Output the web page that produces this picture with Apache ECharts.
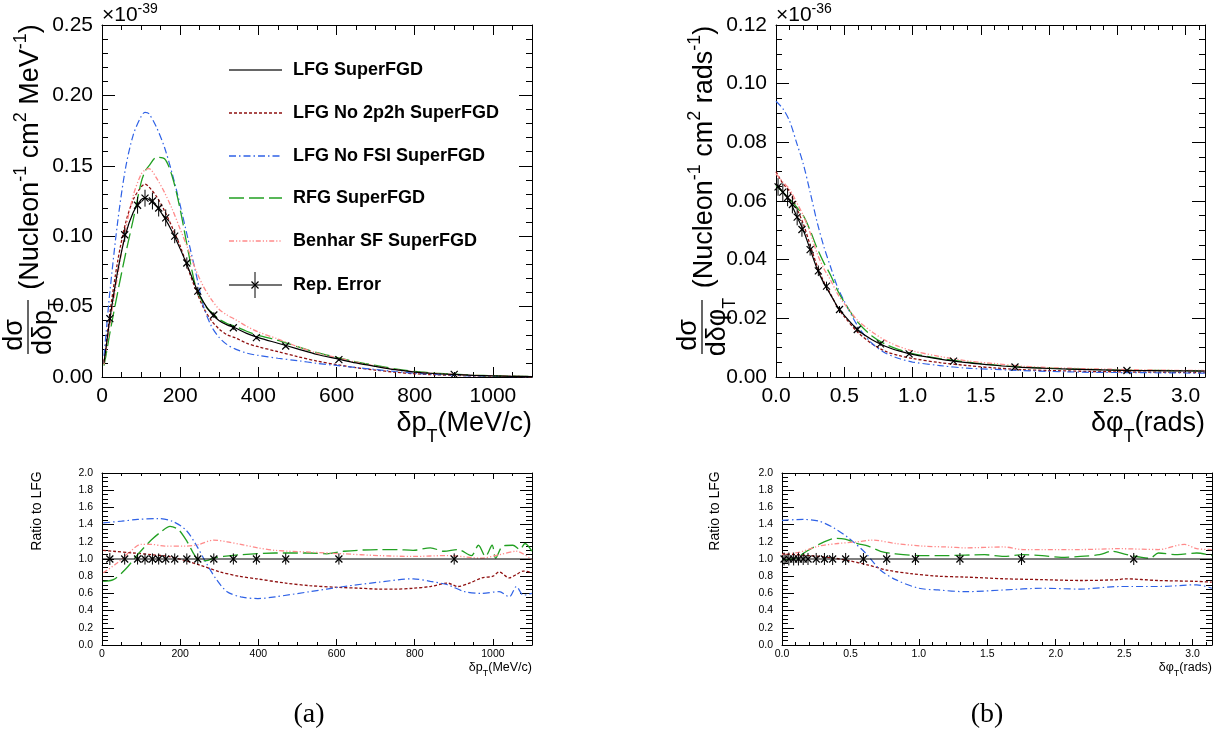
<!DOCTYPE html>
<html><head><meta charset="utf-8">
<script src="https://cdn.jsdelivr.net/npm/echarts@6/dist/echarts.min.js"></script>
<style>html,body{margin:0;padding:0;background:#fff}#c{width:1220px;height:733px}</style>
</head><body><div id="c"></div>
<script>
// ---------- data: panel (a), delta pT [MeV/c], cross-section x1e-39 ----------
const dptX   = [5,10,20,40,60,80,100,110,120,140,160,180,200,220,240,260,280,300,320,340,370,400,450,500,550,600,650,700,750,800,850,900,950,1000,1050,1100];
const lfgL   = [0.010,0.020,0.041,0.075,0.101,0.117,0.126,0.127,0.126,0.121,0.113,0.103,0.091,0.078,0.064,0.053,0.045,0.040,0.037,0.035,0.031,0.028,0.024,0.020,0.016,0.013,0.010,0.0075,0.0052,0.0035,0.0025,0.0018,0.0012,0.0008,0.0005,0.0003];
const no2p2hL= [0.011,0.022,0.045,0.082,0.109,0.126,0.135,0.137,0.135,0.128,0.118,0.106,0.093,0.077,0.062,0.049,0.040,0.034,0.030,0.028,0.024,0.0215,0.018,0.0145,0.0113,0.0088,0.0066,0.0049,0.0034,0.0023,0.0016,0.0012,0.0008,0.0006,0.0004,0.00025];
const noFsiL = [0.015,0.030,0.060,0.110,0.148,0.172,0.185,0.188,0.187,0.177,0.163,0.144,0.122,0.098,0.074,0.050,0.036,0.028,0.023,0.020,0.017,0.0153,0.0133,0.0116,0.0097,0.0082,0.0067,0.0053,0.0039,0.0027,0.0019,0.0013,0.0008,0.0005,0.0003,0.0002];
const rfgL   = [0.008,0.015,0.031,0.060,0.087,0.112,0.138,0.146,0.150,0.156,0.155,0.142,0.119,0.090,0.064,0.052,0.046,0.041,0.038,0.036,0.0325,0.0295,0.026,0.0215,0.0173,0.0140,0.0108,0.0082,0.0058,0.0039,0.0028,0.0020,0.0013,0.0009,0.0006,0.0004];
const sfL    = [0.009,0.018,0.037,0.072,0.104,0.129,0.144,0.147,0.148,0.141,0.131,0.119,0.105,0.091,0.076,0.064,0.055,0.048,0.044,0.041,0.036,0.032,0.027,0.0216,0.017,0.0138,0.0105,0.0078,0.0054,0.0036,0.0026,0.0018,0.0012,0.00085,0.0005,0.0003];
const repXL  = [20,58,91,110,129,145,163,186,217,245,286,336,395,470,606,901];
const repYL  = [0.0415,0.101,0.122,0.127,0.125,0.120,0.113,0.100,0.081,0.061,0.044,0.035,0.028,0.022,0.0123,0.0019];
const repEL  = [0.003,0.005,0.006,0.006,0.006,0.006,0.006,0.005,0.004,0.003,0.002,0.0015,0.0012,0.001,0.0007,0.0002];
// ratio to LFG, panel (a)
const ratioLfgL   = [[0,1.0],[1100,1.0]];
const ratio2p2hL  = [[3,1.10],[29,1.09],[80,1.07],[126,1.05],[170,1.03],[214,0.98],[250,0.93],[302,0.85],[350,0.80],[395,0.77],[470,0.72],[531,0.69],[606,0.67],[660,0.66],[707,0.65],[750,0.65],[796,0.66],[840,0.68],[884,0.72],[910,0.68],[940,0.72],[972,0.78],[1000,0.80],[1016,0.85],[1042,0.78],[1060,0.82],[1078,0.86],[1100,0.84]];
const ratioFsiL   = [[3,1.42],[50,1.44],[91,1.46],[144,1.47],[179,1.44],[214,1.34],[240,1.17],[267,0.95],[293,0.76],[320,0.62],[355,0.56],[399,0.54],[443,0.56],[531,0.62],[619,0.68],[707,0.73],[796,0.77],[840,0.74],[884,0.70],[928,0.62],[972,0.60],[1016,0.62],[1042,0.56],[1060,0.68],[1078,0.58],[1100,0.60]];
const ratioRfgL   = [[3,0.74],[29,0.76],[60,0.88],[91,1.05],[126,1.22],[152,1.32],[174,1.38],[196,1.34],[218,1.20],[236,1.05],[249,0.98],[267,0.98],[285,1.01],[311,1.03],[355,1.05],[443,1.07],[531,1.07],[575,1.06],[619,1.09],[707,1.11],[751,1.11],[796,1.10],[840,1.13],[875,1.09],[910,1.11],[945,1.04],[963,1.16],[981,1.03],[998,1.16],[1007,1.01],[1025,1.15],[1051,1.16],[1069,1.11],[1082,1.18],[1100,1.09]];
const ratioSfL    = [[3,0.84],[38,0.95],[73,1.09],[100,1.17],[126,1.17],[161,1.15],[214,1.15],[249,1.17],[285,1.22],[320,1.20],[355,1.17],[399,1.13],[443,1.10],[531,1.08],[619,1.06],[707,1.04],[796,1.03],[884,1.04],[972,1.01],[1016,1.05],[1060,1.09],[1100,0.99]];
const repRatioL   = [1,1,1,1,1,1,1,1,1,1,1,1,1,1,1,1];
const repRatioEL  = [0.07,0.065,0.065,0.065,0.065,0.065,0.065,0.065,0.065,0.065,0.065,0.065,0.065,0.065,0.065,0.065];

// ---------- data: panel (b), delta phiT [rads], cross-section x1e-36 ----------
const dphiX  = [0,0.05,0.1,0.15,0.2,0.25,0.3,0.35,0.4,0.45,0.5,0.6,0.7,0.8,0.9,1.0,1.2,1.4,1.6,1.8,2.0,2.3,2.6,2.9,3.14];
const lfgR   = [0.066,0.063,0.060,0.055,0.050,0.0435,0.037,0.032,0.028,0.024,0.021,0.016,0.0128,0.0105,0.0089,0.0077,0.0061,0.0049,0.0040,0.0033,0.0029,0.0025,0.0022,0.0021,0.0020];
const no2p2hR= [0.070,0.066,0.0632,0.0577,0.0522,0.0450,0.0380,0.0325,0.0283,0.0238,0.0206,0.0152,0.0114,0.0088,0.0073,0.0063,0.0049,0.0039,0.0031,0.0025,0.0022,0.0019,0.0017,0.0016,0.0015];
const noFsiR = [0.094,0.0915,0.0872,0.0800,0.0726,0.0630,0.0530,0.0445,0.0375,0.0307,0.0258,0.0173,0.0116,0.0082,0.0063,0.0051,0.0039,0.0030,0.0026,0.0022,0.0019,0.0016,0.0015,0.0014,0.0013];
const rfgR   = [0.0653,0.0630,0.0606,0.0580,0.0550,0.0500,0.0440,0.0390,0.0347,0.0296,0.0255,0.0186,0.0141,0.0112,0.0093,0.0080,0.0063,0.0051,0.0041,0.0034,0.0030,0.0026,0.0023,0.0022,0.0021];
const sfR    = [0.0693,0.0665,0.0640,0.0596,0.0550,0.0492,0.0423,0.0370,0.0330,0.0284,0.0250,0.0192,0.0155,0.0125,0.0104,0.0089,0.0070,0.0055,0.0046,0.0037,0.0032,0.0028,0.0025,0.0023,0.0022];
const repXR  = [0.015,0.05,0.085,0.12,0.155,0.19,0.25,0.31,0.37,0.465,0.595,0.765,0.975,1.30,1.75,2.57];
const repYR  = [0.0648,0.0630,0.0612,0.0588,0.0545,0.0503,0.0434,0.0362,0.0310,0.0230,0.0162,0.0113,0.0079,0.0054,0.0034,0.0022];
const repER  = [0.003,0.003,0.003,0.003,0.0028,0.0025,0.002,0.0018,0.0015,0.0012,0.0009,0.0006,0.0005,0.0003,0.0002,0.00015];
// ratio to LFG, panel (b)
const ratioLfgR   = [[0,1.0],[3.1416,1.0]];
const ratio2p2hR  = [[0,1.06],[0.2,1.04],[0.38,1.01],[0.49,0.98],[0.63,0.93],[0.77,0.87],[0.94,0.83],[1.14,0.80],[1.34,0.79],[1.62,0.77],[1.90,0.76],[2.18,0.75],[2.46,0.76],[2.5,0.77],[2.75,0.75],[3.03,0.74],[3.14,0.73]];
const ratioFsiR   = [[0,1.45],[0.155,1.46],[0.27,1.44],[0.38,1.36],[0.49,1.24],[0.61,1.07],[0.72,0.87],[0.83,0.76],[1.0,0.66],[1.14,0.64],[1.34,0.62],[1.62,0.64],[1.90,0.66],[2.18,0.65],[2.46,0.68],[2.75,0.68],[3.03,0.70],[3.14,0.66]];
const ratioRfgR   = [[0,0.99],[0.10,1.01],[0.18,1.09],[0.27,1.17],[0.34,1.22],[0.39,1.24],[0.46,1.23],[0.55,1.18],[0.63,1.15],[0.72,1.09],[0.83,1.06],[1.0,1.04],[1.20,1.04],[1.48,1.05],[1.62,1.03],[1.76,1.05],[1.90,1.04],[2.04,1.02],[2.18,1.03],[2.32,1.05],[2.41,1.09],[2.52,1.05],[2.69,1.01],[2.75,1.07],[2.89,1.05],[3.03,1.07],[3.14,1.04]];
const ratioSfR    = [[0,1.05],[0.13,1.08],[0.27,1.15],[0.41,1.18],[0.55,1.20],[0.66,1.22],[0.83,1.18],[1.03,1.15],[1.20,1.14],[1.34,1.13],[1.62,1.14],[1.76,1.11],[1.90,1.11],[2.18,1.11],[2.46,1.12],[2.75,1.11],[2.94,1.17],[3.03,1.12],[3.14,1.11]];
const repRatioR   = [1,1,1,1,1,1,1,1,1,1,1,1,1,1,1,1];
const repRatioER  = [0.075,0.075,0.075,0.075,0.07,0.07,0.07,0.07,0.07,0.07,0.07,0.07,0.07,0.07,0.07,0.07];

const legendNames = ['LFG SuperFGD','LFG No 2p2h SuperFGD','LFG No FSI SuperFGD','RFG SuperFGD','Benhar SF SuperFGD','Rep. Error'];

// ---------- styles ----------
const FONT = "'Liberation Sans', Arial, Helvetica, sans-serif";
const STY = [
  {color:'#000000', type:'solid', width:1.2},
  {color:'#8f1010', type:[3,2], width:1.3},
  {color:'#2f62e6', type:[7,3,1.5,3], width:1.2},
  {color:'#22a022', type:[15,5], width:1.3},
  {color:'#ff8a8a', type:[5,2,1.2,2,1.2,2], width:1.3}
];

const zip = (xs, ys) => xs.map((x,i)=>[x, ys[i]]);
const zip3 = (xs, ys, es) => xs.map((x,i)=>[x, ys[i], es[i]]);

function axis(gi, pos, c, showLabel) {
  return {
    type:'value', gridIndex:gi, position:pos, min:c.min, max:c.max, interval:c.interval,
    axisLine:{show:true, onZero:false, lineStyle:{color:'#000', width:1}},
    axisTick:{show:true, inside:true, length:c.tick, lineStyle:{color:'#000', width:1}},
    minorTick:{show:true, splitNumber:c.minor, length:c.minorTick, lineStyle:{color:'#000', width:1}},
    splitLine:{show:false}, minorSplitLine:{show:false},
    axisLabel:{show:showLabel, margin:c.margin, fontSize:c.font, fontFamily:FONT, color:'#000',
      formatter:c.fmt, showMaxLabel:c.showMax, showMinLabel:true, hideOverlap:false},
    axisPointer:{show:false}
  };
}
const axTLx = {min:0,max:1100,interval:200,minor:4,tick:10,minorTick:5,margin:9,font:21,fmt:v=>String(Math.round(v)),showMax:false};
const axTLy = {min:0,max:0.25,interval:0.05,minor:5,tick:13,minorTick:6,margin:9,font:21,fmt:v=>v.toFixed(2),showMax:true};
const axTRx = {min:0,max:Math.PI,interval:0.5,minor:5,tick:10,minorTick:5,margin:9,font:21,fmt:v=>v.toFixed(1),showMax:false};
const axTRy = {min:0,max:0.12,interval:0.02,minor:4,tick:13,minorTick:6,margin:9,font:21,fmt:v=>v.toFixed(2),showMax:true};
const axBLx = {min:0,max:1100,interval:200,minor:4,tick:6,minorTick:3,margin:4,font:10.5,fmt:v=>String(Math.round(v)),showMax:false};
const axBRx = {min:0,max:Math.PI,interval:0.5,minor:5,tick:6,minorTick:3,margin:4,font:10.5,fmt:v=>v.toFixed(1),showMax:false};
const axBy  = {min:0,max:2,interval:0.2,minor:4,tick:12,minorTick:6,margin:9,font:10.5,fmt:v=>v.toFixed(1),showMax:true};

const xAxes = [
  axis(0,'bottom',axTLx,true), axis(0,'top',axTLx,false),
  axis(1,'bottom',axTRx,true), axis(1,'top',axTRx,false),
  axis(2,'bottom',axBLx,true), axis(2,'top',axBLx,false),
  axis(3,'bottom',axBRx,true), axis(3,'top',axBRx,false)
];
const yAxes = [
  axis(0,'left',axTLy,true), axis(0,'right',axTLy,false),
  axis(1,'left',axTRy,true), axis(1,'right',axTRy,false),
  axis(2,'left',axBy,true), axis(2,'right',axBy,false),
  axis(3,'left',axBy,true), axis(3,'right',axBy,false)
];

function lineSeries(name, data, k, ai) {
  return {name, type:'line', xAxisIndex:ai, yAxisIndex:ai, data, smooth:0.3, showSymbol:false, symbol:'none',
    lineStyle:{color:STY[k].color, type:STY[k].type, width:STY[k].width}, z: k===0 ? 6 : 3, silent:true, clip:true};
}
function errRender(params, api) {
  const x = api.value(0), y = api.value(1), e = api.value(2);
  const c = api.coord([x, y]), lo = api.coord([x, y - e]), hi = api.coord([x, y + e]);
  const s = 3.5;
  return {type:'group', children:[
    {type:'line', shape:{x1:c[0], y1:hi[1], x2:c[0], y2:lo[1]}, style:{stroke:'#000', lineWidth:1}},
    {type:'line', shape:{x1:c[0]-s, y1:c[1]-s, x2:c[0]+s, y2:c[1]+s}, style:{stroke:'#000', lineWidth:1.2}},
    {type:'line', shape:{x1:c[0]-s, y1:c[1]+s, x2:c[0]+s, y2:c[1]-s}, style:{stroke:'#000', lineWidth:1.2}}
  ]};
}
function errSeries(data, ai) {
  return {type:'custom', xAxisIndex:ai, yAxisIndex:ai, data, renderItem:errRender, encode:{x:0, y:1}, z:8, silent:true, clip:false};
}

const series = [
  lineSeries(legendNames[1], zip(dptX, no2p2hL), 1, 0),
  lineSeries(legendNames[2], zip(dptX, noFsiL), 2, 0),
  lineSeries(legendNames[3], zip(dptX, rfgL), 3, 0),
  lineSeries(legendNames[4], zip(dptX, sfL), 4, 0),
  lineSeries(legendNames[0], zip(dptX, lfgL), 0, 0),
  errSeries(zip3(repXL, repYL, repEL), 0),

  lineSeries(legendNames[1], zip(dphiX, no2p2hR), 1, 2),
  lineSeries(legendNames[2], zip(dphiX, noFsiR), 2, 2),
  lineSeries(legendNames[3], zip(dphiX, rfgR), 3, 2),
  lineSeries(legendNames[4], zip(dphiX, sfR), 4, 2),
  lineSeries(legendNames[0], zip(dphiX, lfgR), 0, 2),
  errSeries(zip3(repXR, repYR, repER), 2),

  lineSeries(legendNames[1], ratio2p2hL, 1, 4),
  lineSeries(legendNames[2], ratioFsiL, 2, 4),
  lineSeries(legendNames[3], ratioRfgL, 3, 4),
  lineSeries(legendNames[4], ratioSfL, 4, 4),
  lineSeries(legendNames[0], ratioLfgL, 0, 4),
  errSeries(zip3(repXL, repRatioL, repRatioEL), 4),

  lineSeries(legendNames[1], ratio2p2hR, 1, 6),
  lineSeries(legendNames[2], ratioFsiR, 2, 6),
  lineSeries(legendNames[3], ratioRfgR, 3, 6),
  lineSeries(legendNames[4], ratioSfR, 4, 6),
  lineSeries(legendNames[0], ratioLfgR, 0, 6),
  errSeries(zip3(repXR, repRatioR, repRatioER), 6)
];

// ---------- graphic texts ----------
const G = [];
function tStyle(text, o) {
  o = o || {};
  return {text, fill:'#000', fontFamily:o.family||FONT, fontSize:o.size||20, fontWeight:o.weight||'normal',
    align:o.align||'center', textAlign:o.align||'center',
    verticalAlign:o.va||'middle', textVerticalAlign:o.va||'middle', rich:o.rich};
}
function T(x, y, text, o) {
  o = o || {};
  G.push({type:'text', x, y, rotation:o.rot||0, silent:true, z:20, style:tStyle(text, o)});
}
function L(x1, y1, x2, y2, color, dash, w) {
  G.push({type:'line', silent:true, z:20, shape:{x1,y1,x2,y2}, style:{stroke:color, lineWidth:w||1.3, lineDash:dash||null}});
}
const supRich = (m, s) => ({m:{fontSize:m, fontFamily:FONT, lineHeight:32, verticalAlign:'bottom'}, s:{fontSize:s, fontFamily:FONT, lineHeight:12, verticalAlign:'top'}});
const subRich = (m, s, lh, sl) => ({m:{fontSize:m, fontFamily:FONT, lineHeight:lh, verticalAlign:'top'}, s:{fontSize:s, fontFamily:FONT, lineHeight:sl, verticalAlign:'middle'}});

// exponent labels
const expRich = {m:{fontSize:21, fontFamily:FONT, lineHeight:24, verticalAlign:'bottom'}, s:{fontSize:14, fontFamily:FONT, lineHeight:12, verticalAlign:'top'}};
T(102, 14, '{m|×10}{s|-39}', {align:'left', rich:expRich});
T(776, 14, '{m|×10}{s|-36}', {align:'left', rich:expRich});

// y titles: one rotated group (local x -> screen up, local y -> screen right)
function yTitle(dx, unit, phi) {
  G.push({type:'group', x:28+dx, y:327, rotation:Math.PI/2, silent:true, z:20, children:[
    {type:'text', x:-8, y:-13, style:tStyle('dσ', {size:27})},
    {type:'line', shape:{x1:-27, y1:0, x2:27, y2:0}, style:{stroke:'#000', lineWidth:1.2}},
    {type:'text', x:0, y:2, style:tStyle('{m|' + (phi ? 'dδφ' : 'dδp') + '}{s|T}', {va:'top', rich:subRich(27,18,27,52)})},
    {type:'text', x:170, y:0, style:tStyle('{m|(Nucleon}{s|-1}{m| cm}{s|2}{m| ' + unit + '}{s|-1}{m|)}', {rich:supRich(27,18)})}
  ]});
}
yTitle(0, 'MeV', false);
yTitle(674, 'rads', true);

// x titles
T(532, 410, '{m|δp}{s|T}{m|(MeV/c)}', {align:'right', va:'top', rich:subRich(27,18,27,54)});
T(1205, 410, '{m|δφ}{s|T}{m|(rads)}', {align:'right', va:'top', rich:subRich(27,18,27,54)});
T(532, 661, '{m|δp}{s|T}{m|(MeV/c)}', {align:'right', va:'top', rich:subRich(12.5,9,13,26)});
T(1212, 661, '{m|δφ}{s|T}{m|(rads)}', {align:'right', va:'top', rich:subRich(12.5,9,13,26)});

// ratio y titles
T(37, 511, 'Ratio to LFG', {rot:Math.PI/2, size:14});
T(715, 511, 'Ratio to LFG', {rot:Math.PI/2, size:14});

// captions
T(309, 715, '(a)', {size:28, family:"'Liberation Serif', 'DejaVu Serif', serif"});
T(987, 715, '(b)', {size:28, family:"'Liberation Serif', 'DejaVu Serif', serif"});

// legend
const legRows = [70, 113, 156, 198, 241, 285];
const legColors = ['#333333', STY[1].color, STY[2].color, STY[3].color, STY[4].color, '#444444'];
const legDash = [null, [3,2], [7,3,1.5,3], [15,5], [5,2,1.2,2,1.2,2], null];
legRows.forEach((y, i) => {
  L(229, y, 282, y, legColors[i], legDash[i], 1.5);
  T(293, y, legendNames[i], {align:'left', size:18, weight:'bold'});
});
L(255, 272, 255, 298, '#000', null, 1);
L(251.5, 281.5, 258.5, 288.5, '#000', null, 1.2);
L(251.5, 288.5, 258.5, 281.5, '#000', null, 1.2);

const chart = echarts.init(document.getElementById('c'), null, {renderer:'canvas'});
chart.setOption({
  animation:false,
  backgroundColor:'#ffffff',
  grid:[
    {left:102, top:25, width:430, height:352, containLabel:false, outerBoundsMode:'none'},
    {left:776, top:25, width:429, height:352, containLabel:false, outerBoundsMode:'none'},
    {left:102, top:473, width:430, height:172, containLabel:false, outerBoundsMode:'none'},
    {left:782, top:473, width:430, height:172, containLabel:false, outerBoundsMode:'none'}
  ],
  xAxis:xAxes,
  yAxis:yAxes,
  series,
  graphic:G
});
</script></body></html>
